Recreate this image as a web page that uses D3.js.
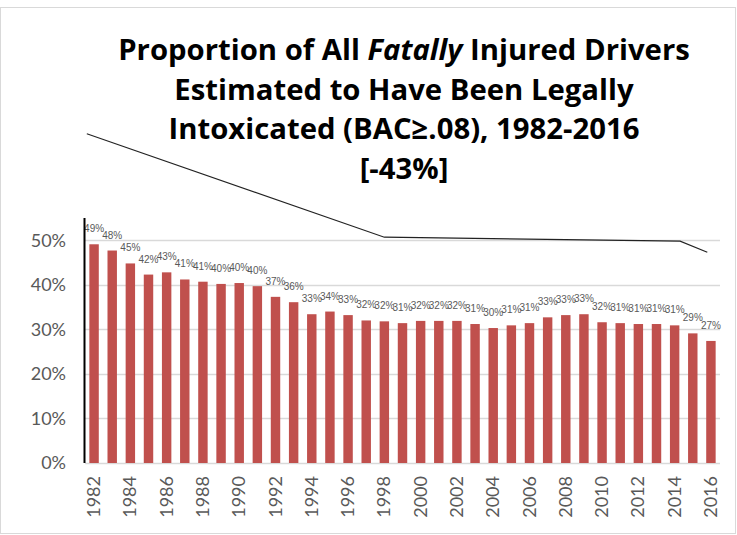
<!DOCTYPE html>
<html>
<head>
<meta charset="utf-8">
<script src="https://cdn.jsdelivr.net/npm/d3@7"></script>
<style>
  body { margin: 0; background: #fff; }
  svg { display: block; }
</style>
</head>
<body>
<div id="chart"></div>
<script>
// data (share of fatally injured drivers with BAC >= .08)
const years = d3.range(1982, 2017).map(String);
const values = [
  0.491, 0.477, 0.448, 0.423, 0.428, 0.412, 0.407, 0.402, 0.404, 0.397,
  0.373, 0.361, 0.334, 0.340, 0.332, 0.320, 0.318, 0.314, 0.319, 0.319,
  0.319, 0.312, 0.303, 0.309, 0.314, 0.327, 0.332, 0.334, 0.316, 0.314,
  0.312, 0.312, 0.309, 0.291, 0.274,
];
const yTicks = [0, 0.1, 0.2, 0.3, 0.4, 0.5];
const xTickYears = years.filter((d, i) => i % 2 === 0);

// the freehand black line drawn over the chart
const lineYears = [1981.6, 1998, 2014.3, 2015.8];
const lineValues = [0.739, 0.507, 0.498, 0.473];

const titleLines = [
  [{ t: 'Proportion of All ' }, { t: 'Fatally', italic: true }, { t: ' Injured Drivers' }],
  [{ t: 'Estimated to Have Been Legally' }],
  [{ t: 'Intoxicated (BAC≥.08), 1982-2016' }],
  [{ t: '[-43%]' }],
];

const W = 737;
const H = 535;
const margin = { top: 218, right: 17, bottom: 72, left: 85 };
const width = W - margin.left - margin.right;
const height = H - margin.top - margin.bottom;

const svg = d3.select('#chart')
  .append('svg')
  .attr('width', W)
  .attr('height', H);

// outer frame
svg.append('rect')
  .attr('x', 0.5).attr('y', 7.5)
  .attr('width', W - 2).attr('height', H - 9)
  .attr('fill', 'none')
  .attr('stroke', '#d9d9d9');

// title
const title = svg.append('text')
  .attr('text-anchor', 'middle')
  .attr('font-family', 'Open Sans, sans-serif')
  .attr('font-weight', 'bold')
  .attr('font-size', 27)
  .attr('fill', '#000');
titleLines.forEach((parts, i) => {
  const line = title.append('tspan')
    .attr('x', 404)
    .attr('y', 60 + i * 39.5);
  parts.forEach((p) => {
    line.append('tspan')
      .attr('font-style', p.italic ? 'italic' : null)
      .text(p.t);
  });
});
// squeeze/stretch the first line to the width seen in the picture
const firstLine = title.select('tspan').node();
const w0 = firstLine.getComputedTextLength();
title.attr('font-size', 27 * (572 / w0));

const g = svg.append('g')
  .attr('transform', `translate(${margin.left},${margin.top})`);

const x = d3.scaleBand()
  .domain(years)
  .range([0, width])
  .paddingInner(0.48)
  .paddingOuter(0.24);

const y = d3.scaleLinear()
  .domain([0, 0.55])
  .range([height, 0]);

const xYear = d3.scaleLinear()
  .domain([1982, 2016])
  .range([x('1982') + x.bandwidth() / 2, x('2016') + x.bandwidth() / 2]);

// gridlines
g.append('g')
  .selectAll('line')
  .data(yTicks)
  .enter()
  .append('line')
  .attr('x1', 0)
  .attr('x2', width)
  .attr('y1', (d) => Math.round(y(d)) + 0.5)
  .attr('y2', (d) => Math.round(y(d)) + 0.5)
  .attr('stroke', '#d9d9d9')
  .attr('stroke-width', 1.3);

// y axis labels
const yAxis = g.append('g')
  .call(d3.axisLeft(y).tickValues(yTicks).tickFormat(d3.format('.0%')).tickSize(0).tickPadding(19));
yAxis.select('.domain').remove();
yAxis.selectAll('text')
  .attr('font-family', 'Lato, sans-serif')
  .attr('font-size', 18)
  .attr('fill', '#595959');

// bars
g.selectAll('.bar')
  .data(values)
  .enter()
  .append('rect')
  .attr('class', 'bar')
  .attr('x', (d, i) => x(years[i]))
  .attr('y', (d) => y(d))
  .attr('width', x.bandwidth())
  .attr('height', (d) => height - y(d))
  .attr('fill', '#c0504d');

// data labels
g.selectAll('.lbl')
  .data(values)
  .enter()
  .append('text')
  .attr('class', 'lbl')
  .attr('x', (d, i) => x(years[i]) + x.bandwidth() / 2)
  .attr('y', (d) => y(d) - 12)
  .attr('text-anchor', 'middle')
  .attr('font-family', 'Liberation Sans, Arial, sans-serif')
  .attr('font-size', 10)
  .attr('fill', '#595959')
  .text((d) => `${Math.round(d * 100)}%`);

// x axis
const xAxis = g.append('g')
  .attr('transform', `translate(0,${height})`)
  .call(d3.axisBottom(x).tickValues(xTickYears).tickSize(0).tickPadding(0));
xAxis.select('.domain').remove();
xAxis.selectAll('text')
  .attr('font-family', 'Lato, sans-serif')
  .attr('font-size', 18)
  .attr('fill', '#595959')
  .attr('text-anchor', 'end')
  .attr('dy', null)
  .attr('transform', 'translate(6,13) rotate(-90)');

// y axis line
g.append('line')
  .attr('x1', -0.5).attr('x2', -0.5)
  .attr('y1', 0).attr('y2', height)
  .attr('stroke', '#000')
  .attr('stroke-width', 2);

// freehand line
const pts = lineYears.map((yr, i) => [xYear(yr), y(lineValues[i])]);
g.append('path')
  .attr('d', d3.line()(pts))
  .attr('fill', 'none')
  .attr('stroke', '#222')
  .attr('stroke-width', 1.1);
</script>
</body>
</html>
